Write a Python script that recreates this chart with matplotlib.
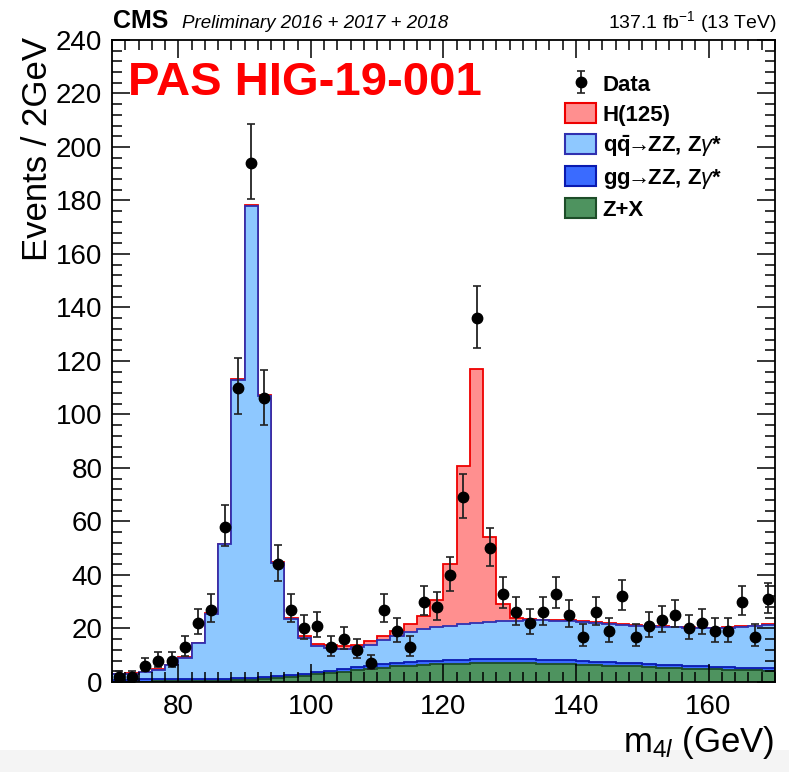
import numpy as np
import matplotlib
matplotlib.use("Agg")
import matplotlib.pyplot as plt
from matplotlib.patches import Patch, Rectangle
from matplotlib.ticker import MultipleLocator

plt.rcParams['font.family'] = ['Liberation Sans', 'DejaVu Sans']
plt.rcParams['mathtext.fontset'] = 'custom'
plt.rcParams['mathtext.rm'] = 'Liberation Sans'
plt.rcParams['mathtext.it'] = 'Liberation Sans:italic'
plt.rcParams['mathtext.bf'] = 'Liberation Sans:bold'

# 2 GeV bins from 70 to 170 GeV
edges = np.arange(70, 172, 2)
centers = edges[:-1] + 1

# observed events per bin
data = [2, 2, 6, 8, 8, 13, 22, 27, 58, 110,
        194, 106, 44, 27, 20, 21, 13, 16, 12, 7,
        27, 19, 13, 30, 28, 40, 69, 136, 50, 33,
        26, 22, 26, 33, 25, 17, 26, 19, 32, 17,
        21, 23, 25, 20, 22, 19, 19, 30, 17, 31]

# expected contributions per bin
zx = [0.1, 0.1, 0.15, 0.2, 0.25, 0.3, 0.35, 0.4, 0.5, 0.6,
      0.8, 1.0, 1.4, 1.9, 2.3, 2.8, 3.2, 3.8, 4.4, 4.9,
      5.4, 5.8, 6.1, 6.4, 6.6, 6.8, 6.9, 7.0, 7.0, 7.0,
      7.0, 7.0, 6.9, 6.8, 6.7, 6.5, 6.3, 6.1, 6.0, 5.8,
      5.6, 5.4, 5.2, 5.0, 4.9, 4.7, 4.6, 4.5, 4.3, 4.2]

gg_zz = [0.8, 0.8, 0.8, 0.8, 0.8, 0.8, 0.8, 0.8, 0.8, 0.8,
         0.8, 0.8, 0.8, 0.8, 0.85, 0.9, 0.95, 1.0, 1.05, 1.1,
         1.15, 1.2, 1.25, 1.3, 1.35, 1.4, 1.45, 1.5, 1.5, 1.5,
         1.45, 1.45, 1.4, 1.35, 1.35, 1.3, 1.3, 1.25, 1.2, 1.2,
         1.15, 1.1, 1.1, 1.05, 1.0, 1.0, 0.95, 0.9, 0.9, 0.85]

qq_zz = [1.9, 2.2, 2.7, 3.6, 5.2, 7.9, 13.4, 24.3, 50.2, 111.6,
         176.4, 105.2, 42.3, 20.8, 13.4, 9.8, 8.7, 7.7, 7.5, 7.9,
         9.0, 10.2, 11.3, 12.0, 12.5, 12.8, 13.2, 13.5, 14.0, 14.2,
         14.5, 14.6, 14.7, 14.8, 14.7, 14.6, 14.5, 14.5, 14.2, 14.1,
         14.1, 14.1, 14.1, 14.2, 14.2, 14.3, 14.7, 15.2, 15.7, 16.3]

higgs = [0.2, 0.2, 0.2, 0.2, 0.2, 0.2, 0.2, 0.2, 0.2, 0.2,
         0.2, 0.2, 0.3, 0.5, 0.7, 0.8, 0.8, 0.8, 0.9, 1.3,
         1.5, 2.0, 3.0, 5.1, 10.1, 23.2, 59.2, 95.0, 31.7, 6.4,
         1.1, 0.5, 0.3, 0.3, 0.3, 0.3, 0.3, 0.3, 0.3, 0.3,
         0.2, 0.2, 0.2, 0.2, 0.2, 0.2, 0.2, 0.2, 0.2, 0.2]

labels = ['H(125)', r'q$\mathbf{\bar{q}}\!\!\rightarrow\!\!$ZZ, Z$\gamma$*',
          r'gg$\!\!\rightarrow\!\!$ZZ, Z$\gamma$*', 'Z+X']
fills = ['#ff8f8f', '#8ec8ff', '#3a6bff', '#4e935f']
lines = ['#ee0000', '#3030b0', '#0a1ab0', '#1d4d28']

fig = plt.figure(figsize=(7.89, 7.72), dpi=100)
ax = fig.add_axes([0.142, 0.1166, 0.840, 0.8316])

# stack: draw the cumulative sums from the top layer down
layers = [np.array(higgs), np.array(qq_zz), np.array(gg_zz), np.array(zx)]
for i in range(len(layers)):
    total = np.sum(layers[i:], axis=0)
    ax.stairs(total, edges, baseline=0, fill=True, facecolor=fills[i],
              edgecolor=lines[i], linewidth=1.3, zorder=1 + i * 0.1)

# Poisson-like asymmetric error bars
n = np.array(data, dtype=float)
err_lo = np.sqrt(n + 0.25) - 0.5
err_hi = np.sqrt(n + 0.25) + 0.5
eb = ax.errorbar(centers, n, yerr=[err_lo, err_hi], fmt='o', color='black',
                 ecolor='#222222', markersize=7.5, elinewidth=1.3, capsize=3,
                 capthick=1.2, zorder=5)

ax.set_xlim(70, 170)
ax.set_ylim(0, 240)
ax.xaxis.set_major_locator(MultipleLocator(20))
ax.xaxis.set_minor_locator(MultipleLocator(2))
ax.yaxis.set_major_locator(MultipleLocator(20))
ax.yaxis.set_minor_locator(MultipleLocator(4))
ax.tick_params(which='both', direction='in', top=True, right=True, width=1.1)
ax.tick_params(which='major', length=13, labelsize=20)
ax.tick_params(which='minor', length=7)
ax.tick_params(axis='x', pad=9)
ax.tick_params(axis='y', pad=7)
for s in ax.spines.values():
    s.set_linewidth(1.3)

ax.set_ylabel('Events / 2GeV', fontsize=25, loc='top')
ax.yaxis.set_label_coords(-0.088, 1.005)
ax.set_xlabel(r'm$_{4\mathit{l}}$ (GeV)', fontsize=25, loc='right')
ax.xaxis.set_label_coords(1.0, -0.066)

fig.text(113 / 789, 1 - 28 / 772, 'CMS', fontsize=18, fontweight='bold')
fig.text(182 / 789, 1 - 28 / 772, 'Preliminary 2016 + 2017 + 2018',
         fontsize=13.5, style='italic')
fig.text(777 / 789, 1 - 28 / 772, r'137.1 fb$^{-1}$ (13 TeV)', fontsize=14,
         ha='right')
ax.text(0.024, 0.915, 'PAS HIG-19-001', transform=ax.transAxes, fontsize=34,
        fontweight='bold', color='#ff0000')

handles = [eb] + [Patch(facecolor=fills[i], edgecolor=lines[i], linewidth=1.5)
                  for i in range(4)]
leg = ax.legend(handles, ['Data'] + labels, loc='upper left',
                bbox_to_anchor=(0.67, 0.962), frameon=False,
                prop={'weight': 'bold', 'size': 16}, handlelength=1.4,
                handleheight=1.0, handletextpad=0.3, labelspacing=0.33,
                borderaxespad=0)

# light strip along the bottom edge, kept behind the axis label
fig.patches.append(Rectangle((0, 0), 1, 22 / 772, transform=fig.transFigure,
                             facecolor='#f4f4f4', edgecolor='none', zorder=-1))

fig.savefig('out.png', dpi=100)
